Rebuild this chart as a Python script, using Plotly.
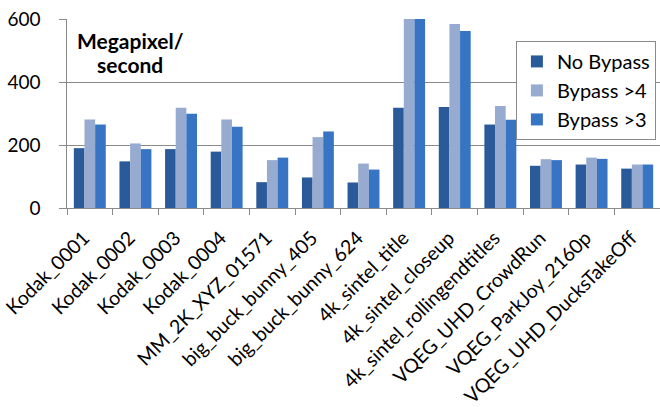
import plotly.graph_objects as go

categories = ["Kodak_0001", "Kodak_0002", "Kodak_0003", "Kodak_0004", "MM_2K_XYZ_01571",
              "big_buck_bunny_405", "big_buck_bunny_624", "4k_sintel_title", "4k_sintel_closeup",
              "4k_sintel_rollingendtitles", "VQEG_UHD_CrowdRun", "VQEG_ParkJoy_2160p",
              "VQEG_UHD_DucksTakeOff"]
no_bypass = [190, 148, 187, 179, 82, 97, 81, 318, 321, 265, 134, 138, 125]
bypass_4 = [281, 205, 318, 281, 152, 225, 141, 640, 584, 324, 155, 160, 138]
bypass_3 = [265, 187, 299, 258, 160, 243, 122, 630, 562, 280, 152, 156, 138]
y_ticks = [0, 200, 400, 600]
y_tick_labels = ["0", "200", "400", "600"]

FONT = "Lato, 'Open Sans', sans-serif"
PAD = "\u00a0" * 3

fig = go.Figure()
fig.add_bar(x=categories, y=no_bypass, name="No Bypass", marker=dict(color="#2A5A9A", line=dict(width=0)))
fig.add_bar(x=categories, y=bypass_4, name="Bypass >4", marker=dict(color="#97AAD0", line=dict(width=0)))
fig.add_bar(x=categories, y=bypass_3, name="Bypass >3", marker=dict(color="#3775C4", line=dict(width=0)))

fig.update_layout(
    width=660, height=407,
    margin=dict(l=67, r=0, t=19, b=199, autoexpand=False),
    paper_bgcolor="white", plot_bgcolor="white",
    barmode="group", bargap=0.3, bargroupgap=0,
    font=dict(family=FONT, size=20, color="#000"),
    showlegend=True,
    legend=dict(x=0.757, y=0.884, xanchor="left", yanchor="top",
                bordercolor="#8a8a8a", borderwidth=1, bgcolor="white",
                font=dict(size=20), itemwidth=30, tracegroupgap=0),
    xaxis=dict(showline=True, linecolor="#8a8a8a", linewidth=1, automargin=False,
               ticks="outside", ticklen=6, tickcolor="#8a8a8a", tickson="boundaries",
               tickangle=-45, tickfont=dict(size=19.5), showgrid=False,
               ticklabelstandoff=10, ticklabelshift=-6),
    yaxis=dict(range=[0, 600], tickvals=y_ticks, ticktext=[t + PAD for t in y_tick_labels],
               showline=True, linecolor="#8a8a8a",
               linewidth=1, ticks="outside", ticklen=7, tickcolor="#8a8a8a", automargin=False,
               showgrid=True, gridcolor="#8a8a8a", gridwidth=1, zeroline=False,
               tickfont=dict(size=19)),
    annotations=[
        dict(text="<b>Megapixel/</b>", xref="paper", yref="paper",
             x=(75 - 67) / 593, y=(208 - 40) / 189, xanchor="left", yanchor="middle",
             showarrow=False, font=dict(size=21, family=FONT)),
        dict(text="<b>second</b>", xref="paper", yref="paper",
             x=(95 - 67) / 593, y=(208 - 64) / 189, xanchor="left", yanchor="middle",
             showarrow=False, font=dict(size=21, family=FONT)),
    ],
)

fig.write_html("out.html")
